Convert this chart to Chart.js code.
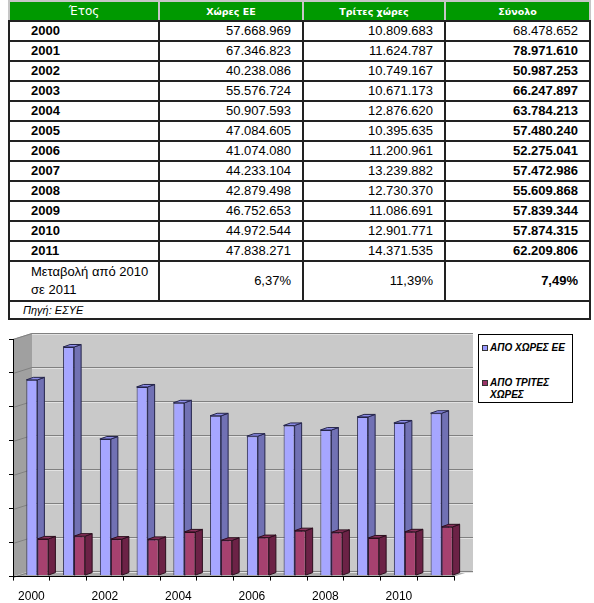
<!DOCTYPE html>
<html lang="el">
<head>
<meta charset="utf-8">
<title>Εισαγωγές 2000-2011</title>
<script src="https://cdn.jsdelivr.net/npm/chart.js@4"></script>
<style>
  html, body { margin: 0; padding: 0; background: #fff; }
  body { width: 594px; height: 603px; position: relative; overflow: hidden; font-family: Arial, "Liberation Sans", sans-serif; }

  #dataTable { position: absolute; left: 8px; top: 0; width: 581px; border-collapse: collapse; table-layout: fixed; }
  #dataTable th { background: #009900; color: #fff; height: 18px; padding: 0; border: 2px solid #c6c6c6; border-bottom-color: #222;
                  font-family: "DejaVu Sans", sans-serif; font-size: 9.5px; font-weight: bold; }
  #dataTable th.first { font-weight: normal; font-size: 12px; }
  #dataTable td { border: 2px solid #222; height: 18px; padding: 0 11px 0 0; font-size: 13px; line-height: 16px; text-align: right; }
  #dataTable td.year { text-align: left; padding-left: 21px; font-weight: bold; }
  #dataTable td.b { font-weight: bold; }
  #dataTable tr.change td { height: 38px; line-height: 18px; }
  #dataTable tr.change td.label { text-align: left; padding: 0 0 0 21px; white-space: nowrap; }
  #dataTable td.source { text-align: left; padding-left: 13px; font-size: 11px; font-style: italic; height: 16px; }

  #chartBox { position: absolute; left: 0; top: 320px; width: 594px; height: 293px; }

  #legend { position: absolute; left: 478px; top: 334px; width: 93px; height: 67px; border: 1px solid #000; background: #fff; }
  #legend .item { position: absolute; left: 3px; width: 88px; font-size: 10px; line-height: 12px; font-weight: bold; font-style: italic; }
  #legend .sw { position: absolute; left: 0; top: 3px; width: 4px; height: 4px; border: 1px solid #333; }
  #legend .txt { position: absolute; left: 8px; top: 0; width: 80px; }
</style>
</head>
<body>
<table id="dataTable"></table>
<div id="chartBox"><canvas id="importsChart"></canvas></div>
<div id="legend"></div>

<script>
// --- data ---
const headers = ['Έτος', 'Χώρες ΕΕ', 'Τρίτες χώρες', 'Σύνολο'];
const years = ['2000', '2001', '2002', '2003', '2004', '2005', '2006', '2007', '2008', '2009', '2010', '2011'];
const euValues = [57668969, 67346823, 40238086, 55576724, 50907593, 47084605, 41074080, 44233104, 42879498, 46752653, 44972544, 47838271];
const thirdValues = [10809683, 11624787, 10749167, 10671173, 12876620, 10395635, 11200961, 13239882, 12730370, 11086691, 12901771, 14371535];
const totalValues = [68478652, 78971610, 50987253, 66247897, 63784213, 57480240, 52275041, 57472986, 55609868, 57839344, 57874315, 62209806];
const changeLabel = ['Μεταβολή από 2010', 'σε 2011'];
const changeValues = ['6,37%', '11,39%', '7,49%'];
const sourceText = 'Πηγή: ΕΣΥΕ';
const seriesLabels = ['ΑΠΟ ΧΩΡΕΣ ΕΕ', 'ΑΠΟ ΤΡΙΤΕΣ ΧΩΡΕΣ'];
const yMax = 70000000;
const yStep = 10000000;

// --- table ---
const fmt = n => String(n).replace(/\B(?=(\d{3})+(?!\d))/g, '.');

let html = '<colgroup><col style="width:150px"><col style="width:144px"><col style="width:142px"><col style="width:145px"></colgroup>';
html += '<tr>' + headers.map((h, i) => `<th${i === 0 ? ' class="first"' : ''}>${h}</th>`).join('') + '</tr>';
years.forEach((yr, i) => {
    html += `<tr><td class="year">${yr}</td><td>${fmt(euValues[i])}</td><td>${fmt(thirdValues[i])}</td>` +
            `<td${i === 0 ? '' : ' class="b"'}>${fmt(totalValues[i])}</td></tr>`;
});
html += `<tr class="change"><td class="label">${changeLabel.join('<br>')}</td><td>${changeValues[0]}</td><td>${changeValues[1]}</td><td class="b">${changeValues[2]}</td></tr>`;
html += `<tr><td class="source" colspan="4">${sourceText}</td></tr>`;
document.getElementById('dataTable').innerHTML = html;

// --- 3d look ---
const WALL_DX = 19, WALL_DY = -6;   // depth of walls / floor
const BAR_DX = 7, BAR_DY = -2.5;    // depth of a bar
const SHIFT_X = 6, SHIFT_Y = -1;    // bars stand half way into the floor

function poly(ctx, pts, fill, stroke) {
    ctx.beginPath();
    pts.forEach(([x, y], i) => i ? ctx.lineTo(x, y) : ctx.moveTo(x, y));
    ctx.closePath();
    if (fill) { ctx.fillStyle = fill; ctx.fill(); }
    if (stroke) { ctx.strokeStyle = stroke; ctx.lineWidth = 1; ctx.stroke(); }
}

const walls3d = {
    id: 'walls3d',
    beforeDraw(chart) {
        const { ctx, chartArea: a, scales: { y } } = chart;
        ctx.save();
        poly(ctx, [[a.left, a.top], [a.left + WALL_DX, a.top + WALL_DY], [a.left + WALL_DX, a.bottom + WALL_DY], [a.left, a.bottom]], '#a0a0a0');
        ctx.fillStyle = '#c9c9c9';
        ctx.fillRect(a.left + WALL_DX, a.top + WALL_DY, a.right - a.left, a.bottom - a.top);
        poly(ctx, [[a.left, a.bottom], [a.right, a.bottom], [a.right + WALL_DX, a.bottom + WALL_DY], [a.left + WALL_DX, a.bottom + WALL_DY]], '#ababab');

        ctx.lineWidth = 1;
        y.ticks.forEach(t => {
            const py = Math.round(y.getPixelForValue(t.value)) + 0.5;
            ctx.strokeStyle = '#808080';
            ctx.beginPath();
            ctx.moveTo(a.left, py);
            ctx.lineTo(a.left + WALL_DX, py + WALL_DY);
            ctx.lineTo(a.right + WALL_DX, py + WALL_DY);
            ctx.stroke();
            ctx.strokeStyle = '#e2e2e2';
            ctx.beginPath();
            ctx.moveTo(a.left + WALL_DX, py + WALL_DY + 1);
            ctx.lineTo(a.right + WALL_DX, py + WALL_DY + 1);
            ctx.stroke();
        });
        ctx.restore();
    }
};

const bars3d = {
    id: 'bars3d',
    beforeDatasetsDraw(chart) {
        const ctx = chart.ctx;
        ctx.save();
        ctx.translate(SHIFT_X, SHIFT_Y);
        chart.data.datasets.forEach((ds, i) => {
            chart.getDatasetMeta(i).data.forEach(bar => {
                const { x, y, base, width } = bar.getProps(['x', 'y', 'base', 'width'], true);
                const l = x - width / 2, r = x + width / 2;
                bar.draw(ctx);
                poly(ctx, [[r, y], [r + BAR_DX, y + BAR_DY], [r + BAR_DX, base + BAR_DY], [r, base]], ds.sideColor, ds.borderColor);
                poly(ctx, [[l, y], [l + BAR_DX, y + BAR_DY], [r + BAR_DX, y + BAR_DY], [r, y]], ds.topColor, ds.borderColor);
            });
        });
        ctx.restore();
        return false;
    }
};

// --- chart ---
const ctxImports = document.getElementById('importsChart').getContext('2d');
const importsChart = new Chart(ctxImports, {
    type: 'bar',
    data: {
        labels: years,
        datasets: [
            {
                label: seriesLabels[0],
                data: euValues,
                backgroundColor: '#a6a6ff',
                sideColor: '#7171b4',
                topColor: '#8d8dea',
                legendColor: '#9999ff',
                borderColor: '#25254a',
                borderWidth: 1
            },
            {
                label: seriesLabels[1],
                data: thirdValues,
                backgroundColor: '#a6416f',
                sideColor: '#6c2246',
                topColor: '#8a315c',
                legendColor: '#993366',
                borderColor: '#2c0f1e',
                borderWidth: 1
            }
        ]
    },
    options: {
        responsive: true,
        maintainAspectRatio: false,
        animation: false,
        layout: { padding: { left: 9, top: 19, right: 140, bottom: 0 } },
        datasets: { bar: { categoryPercentage: 0.6, barPercentage: 1.0 } },
        scales: {
            x: {
                grid: { drawOnChartArea: false, tickLength: 4, color: '#000' },
                border: { color: '#000' },
                ticks: {
                    color: '#000',
                    font: { family: 'Arial, "Liberation Sans"', size: 12 },
                    padding: 9,
                    autoSkip: false,
                    maxRotation: 0,
                    callback: (v, i) => (i % 2 === 0 ? years[i] : '')
                }
            },
            y: {
                min: 0,
                max: yMax,
                ticks: { display: false, stepSize: yStep },
                grid: { drawOnChartArea: false, tickLength: 4, color: '#000' },
                border: { color: '#000' }
            }
        },
        plugins: { legend: { display: false }, tooltip: { enabled: false } }
    },
    plugins: [walls3d, bars3d]
});

// --- legend (html, built from the datasets) ---
const legendTops = [7, 42];
document.getElementById('legend').innerHTML = importsChart.data.datasets.map((ds, i) =>
    `<div class="item" style="top:${legendTops[i]}px"><span class="sw" style="background:${ds.legendColor}"></span><span class="txt">${ds.label}</span></div>`
).join('');
</script>
</body>
</html>
